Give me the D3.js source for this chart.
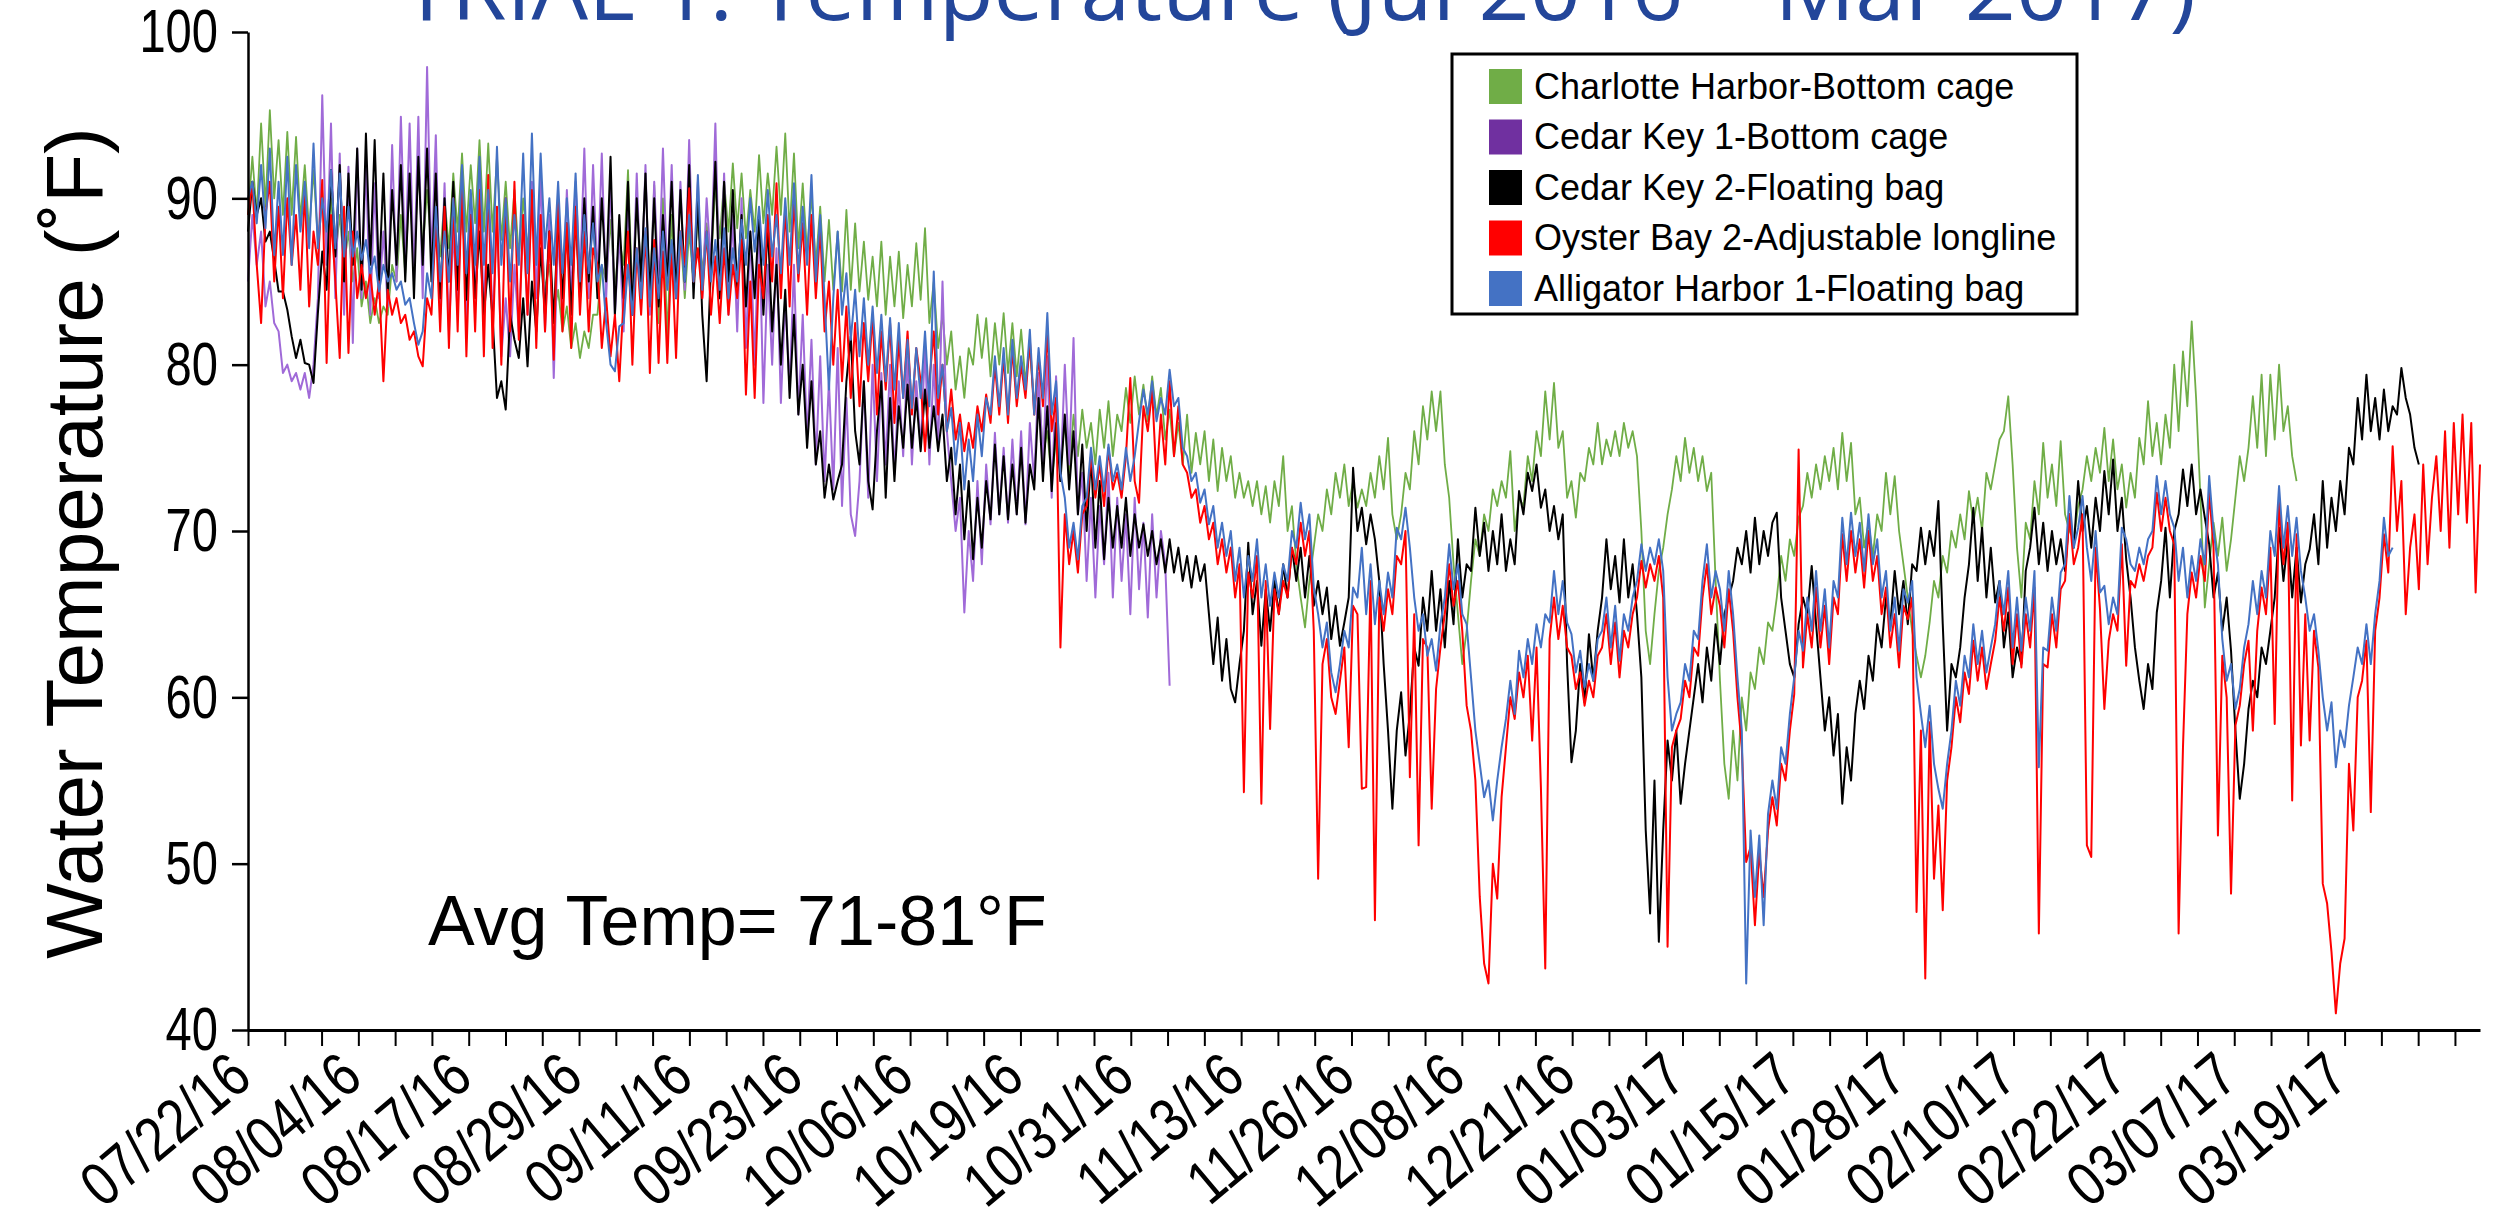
<!DOCTYPE html>
<html>
<head>
<meta charset="utf-8">
<style>
  body { margin: 0; background: #fff; }
  svg text { font-family: "Liberation Sans", Arial, sans-serif; }
</style>
</head>
<body>
<svg id="chart"></svg>
<script src="https://d3js.org/d3.v7.min.js"></script>
<script>
// readings every half day, starting 07/22/16
var STEP = 0.5;

var charlotte = [
  89, 92.5, 89, 94.5, 89.5, 95.3, 90, 93.5, 89, 94, 89, 93.7, 88.7, 92, 88, 91.7, 87.5, 90.5, 87, 90,
  86.5, 89, 86, 88, 85, 87, 83.5, 85, 82.5, 84, 82.5, 83.5, 83, 86, 85, 89, 85.5, 91, 86, 92,
  86.8, 90.5, 87, 89.5, 86.5, 90, 87, 91.5, 88, 92.7, 88, 92, 88.5, 93.5, 88, 93.3, 88, 92.5, 87.5, 91,
  87, 90.5, 86.5, 90, 87, 89.5, 86, 88.5, 84.5, 86, 83, 84.5, 82, 83.5, 81, 82.5, 80.4, 82, 81, 83,
  83, 86, 85, 88.7, 84.5, 87.5, 86, 91.7, 84, 90.5, 85, 91.5, 84, 90.8, 82.5, 90, 81.5, 89, 84, 88,
  84, 88, 85, 89, 85.5, 88.5, 86, 90.9, 87.6, 91, 88, 92.1, 88.2, 91.5, 87.6, 90.5, 88, 92.6, 88.5, 91.5,
  89, 93.1, 89, 93.9, 88, 92.7, 87, 90.9, 86.8, 90.2, 86, 89.5, 85, 88.7, 84.5, 88, 84.4, 89.3, 84.5, 88.5,
  84.4, 87.4, 83.9, 86.5, 83.5, 87.4, 83, 86.5, 83.5, 86.8, 82.8, 86, 83.5, 87.3, 83.9, 88.2, 82.5, 85, 81, 83,
  80, 82, 78.5, 80.5, 78, 81, 80, 83, 80.4, 82.8, 79.3, 82.5, 80, 83.1, 79.5, 82.5, 79.3, 82.1, 79, 81,
  77.5, 79, 74.5, 76, 73, 75.5, 74, 76.5, 73.5, 77, 74.5, 77.3, 75, 76.5, 74, 77.3, 75, 77.8, 74.5, 77,
  76, 78.6, 76.5, 79.3, 77, 78.8, 76.6, 79.3, 76.9, 78.6, 75.5, 77.3, 74.5, 76.5, 74, 77, 73.5, 75.9, 74, 76,
  73, 75.5, 72.4, 75, 73, 74.5, 72, 73.5, 72, 73, 71.5, 73, 71, 72.7, 70.5, 73, 71.5, 74.5, 70, 71.5,
  68, 66, 64.2, 67, 69, 71, 70, 72.5, 71, 73.5, 72, 74, 71.5, 73, 71.4, 72.5, 71.5, 73.5, 72, 74.5,
  72.5, 75.6, 71, 69.5, 71, 73.5, 72.5, 76, 74, 77.5, 75.5, 78.4, 76, 78.4, 74, 72, 68, 65, 62, 64,
  67, 69.5, 68.5, 71, 70, 72.5, 71.5, 73, 72, 74.8, 70, 72, 71.5, 74.5, 73, 76, 74.5, 78.4, 75.5, 78.9,
  75, 76, 72, 73, 70.8, 73.5, 73, 75, 74, 76.5, 74, 75.5, 74.5, 76, 74.5, 76.5, 75, 76, 74.5, 70,
  64, 62, 65, 67.6, 69, 71, 72.5, 74.5, 73, 75.6, 73.5, 75, 73, 74.5, 72.4, 73.5, 67, 61, 56, 53.9,
  58, 55, 60, 58, 61.5, 60.5, 63, 62, 64.5, 64, 66, 68.5, 67, 69.5, 68.5, 70.8, 71.5, 73.5, 72, 74,
  72.5, 74.5, 73, 75, 72.5, 75.9, 73, 75.3, 71, 72, 69, 70.5, 68.5, 71, 70, 73.5, 71, 73.3, 70, 68,
  66, 64, 62.5, 61.2, 62.5, 64.5, 67, 66, 68.5, 67.5, 70, 69, 71, 69.5, 72.4, 70.5, 72, 70, 73.5, 72.5,
  74, 75.5, 76, 78.1, 74, 69, 66, 70.5, 69.5, 73, 71, 75.3, 72, 74, 71.5, 75.4, 71, 70, 69.5, 71.5,
  72.5, 74.5, 73, 75, 73.5, 76.2, 73, 75.5, 72.5, 74, 71.4, 73.5, 72, 75.6, 74, 77.8, 74.5, 76.5, 74, 77,
  75, 80, 76, 80.8, 77.5, 82.6, 78, 72, 65.4, 68, 70.5, 68.5, 70.8, 67.6, 69.5, 72, 74.5, 73, 75, 78.1,
  75, 79.4, 74.5, 79.4, 75.5, 80, 76, 77.5, 74.5, 73
];

var cedarKey1 = [
  85, 89, 86, 88, 83.5, 85, 82.5, 82, 79.5, 80, 79, 79.5, 78.5, 79.5, 78, 80, 84, 96.2, 86, 94.5,
  84, 92.7, 83, 91.9, 81.3, 93, 84, 92.2, 83, 90.9, 84, 88, 83.5, 93.2, 85, 94.9, 86, 94.5, 85, 94.9,
  84, 97.9, 86, 93.8, 83, 90.9, 82, 88, 83, 91.7, 82.5, 90, 84, 91.7, 83, 90.5, 82.5, 89, 80.5, 84,
  80.5, 86, 82, 89, 83, 91, 84, 91.5, 82, 89, 79.2, 88, 83, 90.5, 84, 91, 85, 93, 84, 92,
  85, 92.7, 84, 90.9, 83, 88, 82, 90, 83, 91.5, 84, 92, 83, 91, 84.5, 93, 85, 92, 84, 91,
  84.5, 93.5, 85, 91, 84, 90, 86, 94.5, 84, 91.5, 83, 89, 82, 90, 81, 88, 80, 89, 77.7, 86,
  80, 87, 77.7, 84, 78.5, 86, 77, 83, 75.5, 81.5, 74, 80.5, 73, 79, 72.5, 81, 71.5, 78, 71, 69.7,
  73, 79, 72, 80, 73, 79.5, 74, 80, 73.4, 79, 74.5, 80.5, 74, 79, 75, 81, 74, 80, 75, 85,
  76, 73, 70, 72, 65.1, 70, 67, 73, 68, 74, 70.4, 75.9, 71, 75, 70.5, 75.5, 71, 76, 70.4, 76.5,
  73, 79.5, 74, 80.5, 72, 79.3, 73, 80, 74, 81.6, 71, 73.5, 67, 72, 66, 71.5, 68, 73.5, 66, 72,
  67, 71, 65, 72, 66.5, 70.5, 64.8, 71, 66, 70, 68, 60.7
];

var cedarKey2 = [
  88, 91, 89, 90, 87.4, 88, 86.3, 84.4, 84.4, 83.3, 81.7, 80.4, 81.5, 80.1, 80, 78.9, 83.1, 86.8, 84.5, 91.7,
  86.5, 92, 85, 91.5, 86, 93, 84.5, 93.9, 86, 93.5, 85, 91.5, 84, 90.5, 86, 92, 85, 91.5, 84, 92.5,
  86, 93, 85, 91.5, 84, 90, 85, 91, 84.5, 90.5, 83.9, 89, 84, 88, 83, 86, 82.8, 78, 79, 77.3,
  83, 81.5, 80.4, 84, 79.9, 85, 82, 87, 83, 88, 82.5, 89, 84, 88.5, 83, 89, 84, 90, 85, 89.5,
  84, 90, 85, 92.5, 83, 89, 84, 91, 83, 90, 85, 91.5, 84, 90, 83.5, 89, 85, 91, 84, 90.5,
  85, 92, 84, 90, 83, 79, 86, 92.2, 84, 91, 85, 90.5, 84.5, 89, 83.5, 88, 84, 89, 83, 88.5,
  82, 86, 80, 84.5, 78, 83, 77, 80, 75, 79, 74, 76, 72, 74, 71.9, 73, 74, 79, 81.7, 76,
  74, 79, 73, 71.3, 76, 79, 72, 78, 73, 77.5, 75, 78.8, 75, 78, 74.8, 78.5, 75, 77.5, 74.8, 77,
  73, 75, 71, 74, 69.5, 73, 68.3, 72, 69, 73, 70.7, 75.2, 71, 74.5, 70.7, 74, 71, 75, 70.5, 74,
  72.5, 78, 73, 77.5, 72.4, 76.5, 73, 77, 72.5, 76, 71, 75.2, 70, 74.5, 69, 73, 68.3, 72, 69, 71.5,
  69, 72, 68.5, 71, 69, 70.4, 68.5, 70, 68, 69.5, 67.5, 69.5, 67.5, 69, 67, 68.5, 66.6, 68.5, 67, 68,
  65, 62, 64.8, 61, 63.5, 60.5, 59.7, 62, 64, 69.3, 65, 67, 63.1, 66.5, 64, 67, 65, 68, 66, 69,
  67, 69, 66, 68.5, 65.5, 67, 65, 66.6, 63.5, 65.5, 63.1, 64.5, 66, 73.8, 70, 71.4, 69.2, 71, 69.5, 67,
  62, 58, 53.3, 58, 60.3, 56.5, 59, 63, 61.9, 66, 64, 67.6, 64, 66.5, 63, 67, 64.4, 69.5, 66, 68,
  67.6, 71.4, 68.5, 70.5, 67.6, 70, 68, 71, 67.6, 69.5, 68, 72.4, 71, 73.5, 72.4, 74, 71.4, 72.5, 70, 71.5,
  69.5, 71, 62, 56.1, 58, 62, 59.7, 63.8, 61, 64, 66, 69.5, 66.5, 68.5, 65.7, 69.5, 66, 68, 65, 61.2,
  52, 47, 55, 45.3, 52, 57.4, 55, 58, 53.6, 56, 58, 60, 62, 59.7, 63, 61, 64.4, 62, 65, 66,
  67, 69, 68, 70, 67.5, 70.8, 68, 70, 68.5, 70.5, 71.1, 66, 64, 62, 61.2, 64.4, 66, 65, 67.9, 64.4,
  61.2, 58, 60, 56.5, 59, 53.6, 57, 55, 59, 61, 59.3, 62.5, 61, 64.4, 63, 66, 64.4, 67.6, 65, 67,
  64.4, 68, 67.6, 70.2, 68, 70, 68.5, 71.8, 64.4, 58, 62, 61.2, 63, 66, 68, 71.4, 67, 70.2, 66, 69,
  65.7, 67, 63, 65.1, 61.2, 63, 62, 67.6, 69, 71.4, 68, 70.5, 67.6, 70, 68, 69.5, 67.6, 71, 69, 73,
  70, 71.5, 69, 72, 70, 73.6, 71, 74.3, 70, 72, 68.3, 66, 63, 61, 59.3, 62, 60.5, 65.1, 67, 70.2,
  66, 70, 71, 73.7, 71.5, 74, 71, 72.5, 70.8, 69.2, 66, 67.5, 64, 66, 62.8, 58, 53.9, 56, 59.3, 61,
  60, 63, 62, 64, 66, 70.2, 67, 69.5, 66, 69, 65.7, 68, 68.9, 71, 68, 73, 69, 72, 70, 73,
  71, 75, 74, 78, 75.5, 79.4, 76, 78, 75.5, 78.5, 76, 77.5, 77, 79.8, 78, 77, 75, 74
];

var oysterBay2 = [
  89, 90.9, 86, 82.5, 89, 91, 85, 89.5, 84, 90, 86, 89, 84.5, 90.5, 83.5, 88, 86, 91.1, 80.1, 89,
  85, 80.4, 89.5, 80.7, 88, 84, 86, 84, 85.5, 83, 85, 79, 84.5, 83, 84, 82.5, 83, 81.5, 82, 80.5,
  79.9, 84, 83, 88.5, 82, 89.5, 81, 90, 82, 91, 80.5, 89, 82, 90.5, 80.5, 91.4, 81, 89.5, 80, 90,
  82, 91, 81.5, 89, 83, 90.5, 81, 89, 82, 88, 80.3, 90, 82, 88.5, 81, 89.5, 83, 88, 82, 87,
  86, 81, 84, 80.5, 83, 79, 84, 88, 80, 87, 83, 88, 79.5, 87.5, 80.1, 86.8, 80.1, 87, 80.4, 88,
  86, 90.6, 85, 87, 84, 88, 83, 86.5, 82.5, 87, 83, 86, 84, 87.5, 78.2, 85, 78, 86, 84, 89,
  85, 90.9, 84, 89.5, 83.5, 90, 85, 88.5, 83, 89, 84, 88.2, 82, 85, 80, 84.5, 79, 83.5, 78, 82.5,
  77.5, 82.5, 79, 83, 77, 82, 78.5, 82.5, 76.5, 81.5, 78, 82, 77, 81, 79, 74.8, 79, 82, 77, 80,
  76, 78.5, 75.5, 77, 74.8, 76.5, 75, 77.5, 76, 78.2, 76.5, 80, 77, 80.5, 76.5, 81, 77.5, 80, 78, 81.5,
  77, 80.5, 77.5, 82, 76, 78, 63, 71, 68, 70, 67.5, 71, 71.5, 74.5, 72, 74, 71.5, 75, 72.5, 73.5,
  72, 74.5, 79.2, 73, 71.7, 77.5, 76, 78.5, 73, 77, 74, 79, 74.5, 77.5, 74, 73.5, 72, 72.5, 70.5, 71.5,
  69.5, 70.5, 68, 69.5, 67.5, 69, 66, 68, 54.3, 67.5, 66, 68.5, 53.6, 67, 58.1, 66.5, 65, 67, 66, 69,
  68, 70.5, 68.5, 70, 64, 49.1, 62, 63.5, 60, 59, 61, 63, 57, 65.5, 65, 54.5, 54.6, 67, 46.6, 66,
  64, 66.5, 65, 68.5, 68, 70, 55.2, 65, 51.1, 63.5, 63, 53.3, 60.5, 63, 65, 68, 65.5, 67, 64, 59.5,
  58, 55, 48, 44, 42.8, 50, 47.9, 54, 57, 60, 58.7, 61.5, 60, 62.5, 57.4, 63, 54.6, 43.7, 63.5, 66,
  63.5, 65.5, 63, 62.5, 60.5, 61.5, 59.5, 61, 60, 62.5, 63, 65, 62, 64.5, 61.2, 64, 63, 65, 66, 68.2,
  66.6, 68, 67, 68.5, 66, 45, 57, 58, 58.7, 61, 60, 63, 62.5, 66, 68, 65, 66.6, 65.5, 63, 66.5,
  64, 60, 57, 50.1, 51, 46.3, 50.7, 48, 52, 54, 52.3, 56, 55, 58, 60.2, 74.9, 61.8, 65, 63, 66.6,
  63, 65.5, 62, 66, 65, 69.8, 67, 70, 67.5, 69.5, 66.6, 70, 67, 68.5, 65, 66.6, 63, 65, 61.8, 65.5,
  64.7, 66, 47.1, 58, 43.1, 58.5, 49.1, 53.5, 47.2, 55, 57, 60, 58.5, 61.5, 60.2, 63.4, 61, 63, 60.5, 62,
  63.4, 66, 64, 66.6, 62, 65, 61.8, 65, 63, 66.6, 45.8, 62, 61.8, 65, 63, 66.5, 67, 71, 68, 69,
  71, 51.1, 50.4, 69, 65.3, 59.3, 63.4, 65, 64, 69.2, 61.9, 67, 66.6, 68, 67, 68.5, 69, 72.3, 70, 72,
  70, 69.2, 45.8, 57, 65, 67.5, 66, 68.5, 67, 72.3, 69, 51.7, 62.5, 60, 48.2, 58.3, 59.5, 62, 63.4, 58,
  64, 66.6, 65, 69, 58.4, 71.7, 68, 70.5, 53.8, 69.8, 57.1, 65, 57.4, 64, 61.8, 48.8, 47.6, 44.7, 41, 44,
  45.5, 56, 52, 60, 61, 63.4, 53.1, 64, 66, 69.8, 67.5, 75.1, 70, 73, 65, 69, 71, 66.5, 74, 68,
  72, 74.5, 70, 76, 69, 76.5, 71, 77, 70.5, 76.5, 66.3, 74
];

var alligator1 = [
  90, 91, 88.5, 92, 88.2, 93, 86.6, 91, 86.6, 92.5, 86, 92, 88, 91, 87, 93.3, 87, 90, 88, 91.7,
  87, 91.5, 86.5, 89.5, 86.5, 88, 86.3, 87.5, 85.5, 86.5, 84.4, 86, 85, 85.5, 84.5, 85, 83.6, 84, 82.5, 81.2,
  82, 85.5, 84, 89.5, 85, 88, 85, 90, 86, 92, 85.5, 90.5, 86, 92.5, 86, 90.5, 85.5, 93.1, 86, 90,
  85, 89, 86, 92.7, 85.5, 93.9, 86, 92.7, 87, 90, 86, 91, 85.5, 90, 86, 91.5, 85, 89, 85.5, 88.5,
  85, 86, 82.5, 80, 79.6, 82.3, 82.5, 86, 83, 87, 84, 88.2, 83.5, 87, 84, 88, 84.5, 87.5, 84, 88,
  85, 89, 85, 91.4, 84.5, 88, 85, 87.5, 84.5, 88.2, 84, 87, 85, 88.7, 86, 90, 86.8, 89.5, 86, 90.5,
  86.5, 89, 85.5, 90, 86, 90.9, 85.5, 89.5, 86, 91.4, 85, 89, 84, 78.5, 84, 88, 83, 85.5, 81.5, 84.5,
  80.5, 84, 80, 83.5, 79.5, 83, 79, 82.8, 78.5, 82.5, 78, 81.5, 77.4, 81, 78, 82, 77.5, 85.6, 78, 80,
  76, 77.4, 74, 76.5, 72.5, 75.5, 73, 77, 74.5, 78, 77, 80.5, 77.5, 81, 77, 81.5, 78, 80.5, 78.5, 82.1,
  77, 81, 78, 83.1, 77, 79, 73.5, 72, 69, 70.5, 68.3, 71.5, 72, 75, 72.5, 74.5, 72.4, 75.2, 73, 74,
  72.5, 75, 73, 74.5, 76.6, 78.5, 77, 79, 76.6, 78, 77, 79.7, 77.5, 78, 75, 74.5, 73, 73.5, 71.7, 72.5,
  70.4, 71.5, 69, 70.5, 68.5, 70, 67, 69, 66, 68.5, 67, 69.5, 66, 68, 65.5, 67.5, 66, 68, 67, 70,
  69, 71.7, 69.5, 71, 66.6, 65, 63, 64.5, 61.5, 60.3, 62, 64, 63, 66.6, 66, 69, 65, 68, 64.4, 67,
  65, 67.5, 66, 70.2, 69.5, 71.4, 69, 66, 64, 65, 62.5, 63.5, 61.6, 64.4, 66, 69.2, 66.5, 68, 65, 64.4,
  61.2, 58, 56, 54, 55, 52.6, 55, 57, 58.7, 61, 59, 62.8, 61.2, 63.5, 62, 64.4, 63, 65, 64.5, 67.6,
  65, 67, 64.5, 63.8, 61.5, 62.8, 60.6, 62, 61, 63.5, 64, 66, 63, 65.5, 62.2, 65, 64, 66, 67, 69.2,
  67.6, 69, 68, 69.5, 67.6, 61.2, 58, 59, 59.7, 62, 61, 64, 63.5, 67, 69.2, 66, 67.6, 66.5, 64, 67.6,
  65, 61.2, 58, 42.8, 52, 48, 51.7, 46.3, 53, 55, 53.3, 57, 56, 59, 61.2, 64, 62.8, 66, 64, 67.6,
  64, 66.5, 63, 67, 66, 70.8, 68, 71.1, 68.5, 70.5, 67.6, 71, 68, 69.5, 66, 67.6, 64, 66, 62.8, 66.5,
  65.7, 67, 61.2, 59, 57, 59.5, 56, 54.5, 53.3, 56, 58, 61, 59.5, 62.5, 61.2, 64.4, 62, 64, 61.5, 63,
  64.4, 67, 65, 67.6, 63, 66, 62.8, 66, 64, 67.6, 55.8, 63, 62.8, 66, 64, 67.5, 68, 72.1, 69, 70.2,
  72.1, 69, 67, 70, 66.3, 66.7, 64.4, 66, 65, 70.2, 69.5, 68, 67.6, 69, 68, 69.5, 70, 73.3, 71, 73,
  71, 70.2, 67, 69, 66, 68.5, 67, 69.5, 68, 73.3, 70, 68, 63.5, 61, 62, 59.3, 60.5, 63, 64.4, 67,
  65, 67.6, 66, 70, 68.5, 72.7, 69, 71.5, 68.5, 70.8, 67.6, 66, 64, 65, 62.8, 60, 58, 59.7, 55.8, 58,
  57, 59.5, 61.2, 63, 62, 64.4, 62, 65, 67, 70.8, 68.5, 69
];

var seriesNames = [
  "Charlotte Harbor-Bottom cage",
  "Cedar Key 1-Bottom cage",
  "Cedar Key 2-Floating bag",
  "Oyster Bay 2-Adjustable longline",
  "Alligator Harbor 1-Floating bag"
];
var seriesValues = [charlotte, cedarKey1, cedarKey2, oysterBay2, alligator1];
var lineColors = ["#70ad47", "#a06ad8", "#000000", "#ff0000", "#4472c4"];
var swatchColors = ["#70ad47", "#7030a0", "#000000", "#ff0000", "#4472c4"];

var yTicks = [40, 50, 60, 70, 80, 90, 100];
var tickLabels = ["07/22/16", "08/04/16", "08/17/16", "08/29/16", "09/11/16", "09/23/16", "10/06/16",
  "10/19/16", "10/31/16", "11/13/16", "11/26/16", "12/08/16", "12/21/16", "01/03/17", "01/15/17",
  "01/28/17", "02/10/17", "02/22/17", "03/07/17", "03/19/17"];
var tickStep = 240 / 57;   // days between tick marks, a label on every third

var W = 2503, H = 1228;
var svg = d3.select("#chart").attr("width", W).attr("height", H);
svg.append("rect").attr("width", W).attr("height", H).attr("fill", "#fff");

var x = d3.scaleLinear().domain([0, 255.5]).range([248, 2480]);
var y = d3.scaleLinear().domain([40, 100]).range([1030, 32]);

// squeeze text horizontally, the axis font is a narrow face
function narrow(sel, k) {
    sel.each(function() {
        var w = this.getComputedTextLength();
        d3.select(this).attr("textLength", w * k).attr("lengthAdjust", "spacingAndGlyphs");
    });
}

// title, cut off by the top edge like the slide
svg.append("text")
    .attr("x", 1299).attr("y", 20)
    .attr("text-anchor", "middle")
    .attr("textLength", 1794).attr("lengthAdjust", "spacingAndGlyphs")
    .style("font-family", "'Open Sans', 'Noto Sans', sans-serif")
    .style("font-size", "86px")
    .attr("fill", "#23469a")
    .text("TRIAL 1: Temperature (Jul 2016 \u2013 Mar 2017)");

// lines
var line = d3.line()
    .x(function(d, i) { return x(i * STEP); })
    .y(function(d) { return y(d); });

var plot = svg.append("g");
seriesValues.forEach(function(vals, k) {
    plot.append("path")
        .datum(vals)
        .attr("d", line)
        .attr("fill", "none")
        .attr("stroke", lineColors[k])
        .attr("stroke-width", k === 0 ? 1.8 : 2)
        .attr("stroke-linejoin", "round");
});

// y axis
var yAxis = svg.append("g")
    .attr("transform", "translate(248,0)")
    .call(d3.axisLeft(y).tickValues(yTicks).tickSize(16).tickSizeOuter(0).tickPadding(14));
yAxis.selectAll("path, line").attr("stroke", "#000").attr("stroke-width", 2.5);
yAxis.selectAll("text")
    .style("font-size", "62px")
    .attr("fill", "#000")
    .call(narrow, 0.76);

// x axis
var tickDays = d3.range(0, 61).map(function(i) { return i * tickStep; });
var xAxis = svg.append("g")
    .attr("transform", "translate(0,1030)")
    .call(d3.axisBottom(x).tickValues(tickDays).tickSize(16).tickSizeOuter(0)
        .tickFormat(function(d, i) { return i % 3 === 0 ? tickLabels[i / 3] : ""; }));
xAxis.select(".domain").attr("stroke", "#000").attr("stroke-width", 3);
xAxis.selectAll("line").attr("stroke", "#000").attr("stroke-width", 2);
xAxis.selectAll("text")
    .attr("x", 0).attr("y", 0).attr("dy", 0)
    .attr("text-anchor", "end")
    .attr("transform", "translate(6,52) rotate(-40)")
    .style("font-size", "62px")
    .attr("fill", "#000")
    .call(narrow, 0.82);

// y title
svg.append("text")
    .attr("transform", "translate(102,543) rotate(-90)")
    .attr("text-anchor", "middle")
    .style("font-size", "80px")
    .text("Water Temperature (\u02daF)");

// note
svg.append("text")
    .attr("x", 428).attr("y", 945)
    .style("font-size", "70px")
    .text("Avg Temp= 71-81\u00b0F");

// legend
var legend = svg.append("g");
legend.append("rect")
    .attr("x", 1452).attr("y", 54).attr("width", 625).attr("height", 260)
    .attr("fill", "#fff").attr("stroke", "#000").attr("stroke-width", 3);
var rows = legend.selectAll("g.row").data(seriesNames).enter().append("g")
    .attr("transform", function(d, i) { return "translate(1489," + (86 + i * 50.5) + ")"; });
rows.append("rect")
    .attr("x", 0).attr("y", -17).attr("width", 33).attr("height", 35)
    .attr("fill", function(d, i) { return swatchColors[i]; });
rows.append("text")
    .attr("x", 45).attr("y", 0).attr("dy", "0.35em")
    .style("font-size", "36px")
    .text(function(d) { return d; });
</script>
</body>
</html>
